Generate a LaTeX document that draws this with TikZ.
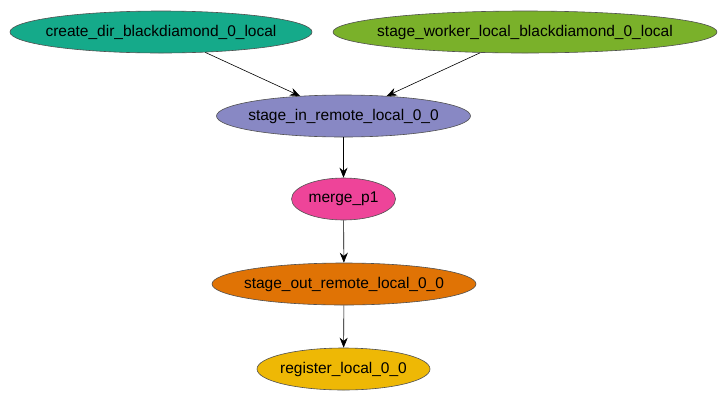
\documentclass[tikz,border=0pt]{standalone}
\usepackage{fontspec}
\setmainfont{Liberation Sans}
\usetikzlibrary{shapes.geometric,arrows.meta}
\definecolor{cteal}{HTML}{15AA8A}
\definecolor{cgreen}{HTML}{7AB12A}
\definecolor{cpurple}{HTML}{8888C4}
\definecolor{cpink}{HTML}{EE4499}
\definecolor{corange}{HTML}{E07305}
\definecolor{cyellow}{HTML}{EEB805}
\definecolor{cborder}{HTML}{505050}
\tikzset{
  job/.style={ellipse, draw=cborder, line width=0.6pt, inner xsep=-80pt, inner ysep=-20pt, minimum height=42pt, font=\fontsize{15.5}{17}\selectfont},
  edge/.style={-{Stealth[length=10pt,width=8pt]}, line width=0.6pt, black}
}
\begin{document}
\begin{tikzpicture}[x=1pt,y=-1pt]
\path[use as bounding box] (0,0) rectangle (728,400);
\node[job, fill=cteal, minimum width=302pt] (cd) at (161,32) {create\_dir\_blackdiamond\_0\_local};
\node[job, fill=cgreen, minimum width=384pt] (sw) at (525,32) {stage\_worker\_local\_blackdiamond\_0\_local};
\node[job, fill=cpurple, minimum width=254pt] (si) at (343.5,116) {stage\_in\_remote\_local\_0\_0};
\node[job, fill=cpink, minimum width=104pt] (mp) at (343.5,199) {merge\_p1};
\node[job, fill=corange, minimum width=264pt] (so) at (344,284) {stage\_out\_remote\_local\_0\_0};
\node[job, fill=cyellow, minimum width=173pt] (rl) at (343.5,369) {register\_local\_0\_0};
\draw[edge] (cd) -- (si);
\draw[edge] (sw) -- (si);
\draw[edge] (si) -- (mp);
\draw[edge] (mp) -- (so);
\draw[edge] (so) -- (rl);
\end{tikzpicture}
\end{document}
